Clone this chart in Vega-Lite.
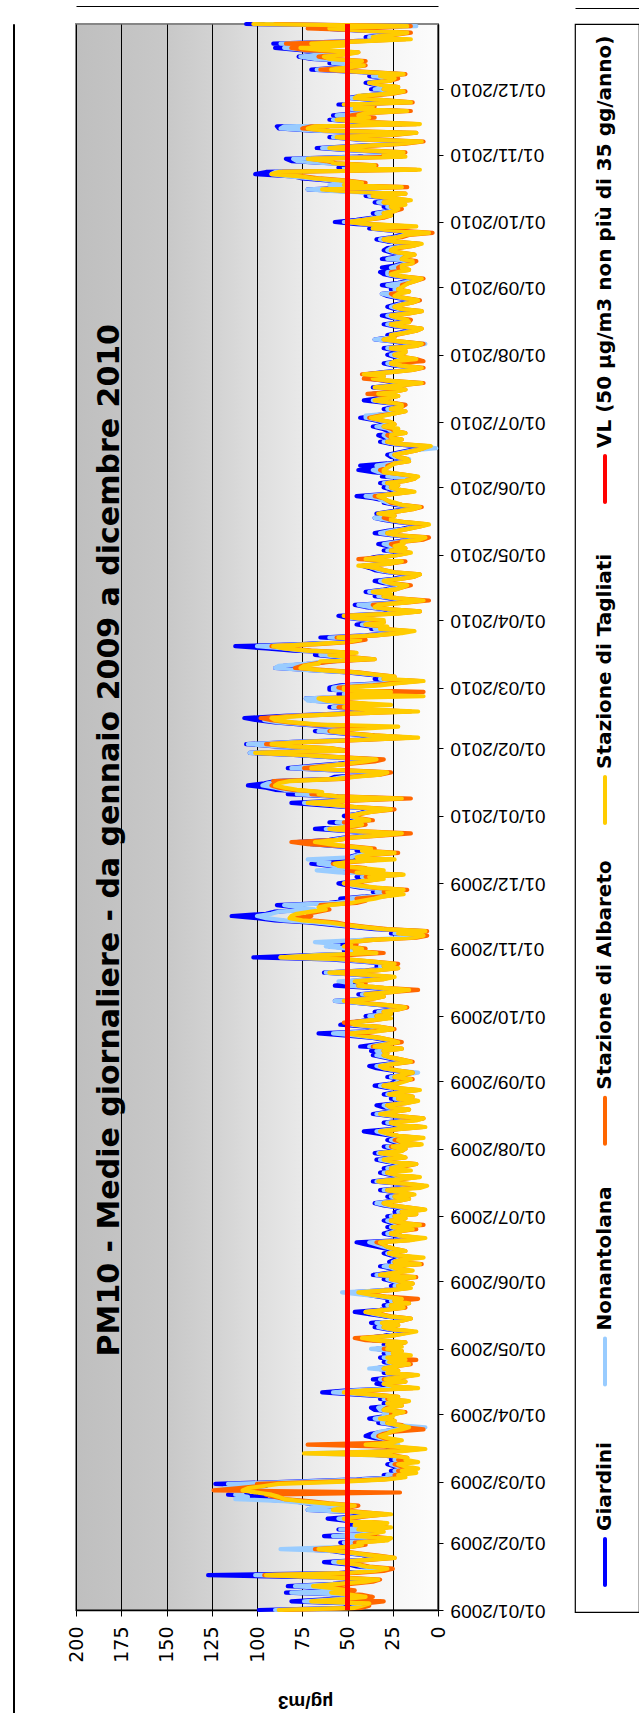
{
"$schema": "https://vega.github.io/schema/vega-lite/v6.json",
"background": "white",
"padding": {"left": 10, "top": 5, "right": 0, "bottom": 0},
"spacing": 49,
"title": {"text": "PM10 - Medie giornaliere - da gennaio 2009 a dicembre 2010", "orient": "left", "anchor": "end", "frame": "group", "font": "DejaVu Sans", "fontSize": 30, "fontWeight": "bold", "color": "black", "offset": -115, "dx": -300},
"config": {"view": {"stroke": null}},
"hconcat": [
{
"width": 1, "height": 1720,
"view": {"stroke": "black", "strokeWidth": 1},
"data": {"values": [{"k": "frame"}]},
"mark": {"type": "point", "opacity": 0}
},
{
"spacing": 27,
"hconcat": [
{
"width": 362, "height": 1586,
"view": {"stroke": "#868686", "strokeWidth": 2, "fill": {"gradient": "linear", "x1": 0, "y1": 0, "x2": 1, "y2": 0, "stops": [{"offset": 0, "color": "#bfbfbf"}, {"offset": 0.25, "color": "#c8c8c8"}, {"offset": 0.4, "color": "#d4d4d4"}, {"offset": 0.5, "color": "#dedede"}, {"offset": 0.65, "color": "#ebebeb"}, {"offset": 0.8, "color": "#f4f4f4"}, {"offset": 1, "color": "#fcfcfc"}]}},
"resolve": {"axis": {"x": "independent"}},
"data": {"values": [
{"d":"2009-01-01","g":99,"n":90,"a":85,"t":88},{"d":"2009-01-02","g":52,"n":48,"a":42,"t":46},{"d":"2009-01-03","g":45,"n":40,"a":38,"t":42},{"d":"2009-01-04","g":50,"n":44,"a":40,"t":38},{"d":"2009-01-05","g":81,"n":74,"a":30,"t":70},{"d":"2009-01-06","g":60,"n":55,"a":48,"t":52},{"d":"2009-01-07","g":44,"n":40,"a":36,"t":40},{"d":"2009-01-08","g":52,"n":48,"a":42,"t":48},{"d":"2009-01-09","g":84,"n":81,"a":55,"t":59},{"d":"2009-01-10","g":55,"n":50,"a":46,"t":50},{"d":"2009-01-11","g":60,"n":62,"a":55,"t":58},{"d":"2009-01-12","g":83,"n":79,"a":60,"t":69},{"d":"2009-01-13","g":58,"n":54,"a":48,"t":55},{"d":"2009-01-14","g":42,"n":40,"a":36,"t":40},{"d":"2009-01-15","g":38,"n":35,"a":32,"t":33},{"d":"2009-01-16","g":62,"n":58,"a":55,"t":60},{"d":"2009-01-17","g":127,"n":101,"a":96,"t":95},{"d":"2009-01-18","g":55,"n":50,"a":45,"t":50},{"d":"2009-01-19","g":40,"n":38,"a":30,"t":35},{"d":"2009-01-20","g":32,"n":30,"a":25,"t":28},{"d":"2009-01-21","g":45,"n":42,"a":38,"t":40},{"d":"2009-01-22","g":50,"n":46,"a":44,"t":45},{"d":"2009-01-23","g":63,"n":58,"a":52,"t":55},{"d":"2009-01-24","g":42,"n":40,"a":38,"t":40},{"d":"2009-01-25","g":30,"n":28,"a":24,"t":24},{"d":"2009-01-26","g":38,"n":36,"a":33,"t":35},{"d":"2009-01-27","g":50,"n":48,"a":44,"t":45},{"d":"2009-01-28","g":58,"n":56,"a":52,"t":55},{"d":"2009-01-29","g":75,"n":87,"a":68,"t":66},{"d":"2009-01-30","g":50,"n":52,"a":48,"t":48},{"d":"2009-01-31","g":45,"n":44,"a":40,"t":42},
{"d":"2009-02-01","g":54,"n":52,"a":46,"t":44},{"d":"2009-02-02","g":40,"n":38,"a":30,"t":28},{"d":"2009-02-03","g":35,"n":33,"a":28,"t":26},{"d":"2009-02-04","g":63,"n":58,"a":40,"t":45},{"d":"2009-02-05","g":45,"n":42,"a":35,"t":38},{"d":"2009-02-06","g":38,"n":35,"a":32,"t":30},{"d":"2009-02-07","g":55,"n":54,"a":42,"t":44},{"d":"2009-02-08","g":40,"n":38,"a":28,"t":26},{"d":"2009-02-09","g":48,"n":46,"a":44,"t":46},{"d":"2009-02-10","g":36,"n":34,"a":30,"t":28},{"d":"2009-02-11","g":50,"n":47,"a":45,"t":48},{"d":"2009-02-12","g":61,"n":55,"a":50,"t":52},{"d":"2009-02-13","g":45,"n":42,"a":40,"t":42},{"d":"2009-02-14","g":35,"n":32,"a":28,"t":26},{"d":"2009-02-15","g":48,"n":46,"a":42,"t":44},{"d":"2009-02-16","g":72,"n":72,"a":55,"t":58},{"d":"2009-02-17","g":60,"n":70,"a":50,"t":52},{"d":"2009-02-18","g":50,"n":48,"a":44,"t":46},{"d":"2009-02-19","g":72,"n":71,"a":60,"t":62},{"d":"2009-02-20","g":80,"n":85,"a":70,"t":75},{"d":"2009-02-21","g":100,"n":112,"a":85,"t":85},{"d":"2009-02-22","g":95,"n":105,"a":90,"t":88},{"d":"2009-02-23","g":116,"n":112,"a":95,"t":92},{"d":"2009-02-24","g":105,"n":108,"a":21,"t":100},{"d":"2009-02-25","g":110,"n":115,"a":124,"t":108},{"d":"2009-02-26","g":115,"n":118,"a":110,"t":105},{"d":"2009-02-27","g":95,"n":100,"a":98,"t":96},{"d":"2009-02-28","g":123,"n":116,"a":100,"t":88},
{"d":"2009-03-01","g":80,"n":75,"a":60,"t":52},{"d":"2009-03-02","g":45,"n":42,"a":30,"t":28},{"d":"2009-03-03","g":25,"n":22,"a":20,"t":18},{"d":"2009-03-04","g":30,"n":28,"a":24,"t":22},{"d":"2009-03-05","g":20,"n":18,"a":16,"t":12},{"d":"2009-03-06","g":26,"n":24,"a":22,"t":20},{"d":"2009-03-07","g":18,"n":16,"a":14,"t":11},{"d":"2009-03-08","g":24,"n":22,"a":20,"t":18},{"d":"2009-03-09","g":28,"n":26,"a":24,"t":22},{"d":"2009-03-10","g":20,"n":18,"a":15,"t":11},{"d":"2009-03-11","g":26,"n":24,"a":22,"t":18},{"d":"2009-03-12","g":22,"n":20,"a":17,"t":17},{"d":"2009-03-13","g":30,"n":28,"a":24,"t":26},{"d":"2009-03-14","g":45,"n":72,"a":60,"t":74},{"d":"2009-03-15","g":30,"n":28,"a":22,"t":20},{"d":"2009-03-16","g":20,"n":18,"a":10,"t":7},{"d":"2009-03-17","g":28,"n":26,"a":24,"t":22},{"d":"2009-03-18","g":24,"n":22,"a":72,"t":40},{"d":"2009-03-19","g":32,"n":30,"a":26,"t":25},{"d":"2009-03-20","g":26,"n":24,"a":22,"t":20},{"d":"2009-03-21","g":35,"n":32,"a":30,"t":28},{"d":"2009-03-22","g":40,"n":36,"a":33,"t":32},{"d":"2009-03-23","g":37,"n":35,"a":30,"t":28},{"d":"2009-03-24","g":30,"n":32,"a":24,"t":26},{"d":"2009-03-25","g":25,"n":23,"a":8,"t":20},{"d":"2009-03-26","g":20,"n":7,"a":18,"t":16},{"d":"2009-03-27","g":24,"n":22,"a":20,"t":22},{"d":"2009-03-28","g":33,"n":31,"a":28,"t":28},{"d":"2009-03-29","g":28,"n":26,"a":24,"t":24},{"d":"2009-03-30","g":38,"n":35,"a":30,"t":32},{"d":"2009-03-31","g":30,"n":28,"a":26,"t":25},
{"d":"2009-04-01","g":28,"n":30,"a":26,"t":24},{"d":"2009-04-02","g":22,"n":20,"a":18,"t":19},{"d":"2009-04-03","g":35,"n":32,"a":30,"t":30},{"d":"2009-04-04","g":37,"n":33,"a":28,"t":26},{"d":"2009-04-05","g":25,"n":24,"a":20,"t":20},{"d":"2009-04-06","g":30,"n":28,"a":26,"t":28},{"d":"2009-04-07","g":22,"n":20,"a":17,"t":16},{"d":"2009-04-08","g":32,"n":30,"a":28,"t":27},{"d":"2009-04-09","g":26,"n":24,"a":22,"t":22},{"d":"2009-04-10","g":45,"n":40,"a":34,"t":36},{"d":"2009-04-11","g":64,"n":58,"a":50,"t":52},{"d":"2009-04-12","g":50,"n":46,"a":38,"t":40},{"d":"2009-04-13","g":20,"n":18,"a":14,"t":11},{"d":"2009-04-14","g":28,"n":26,"a":24,"t":25},{"d":"2009-04-15","g":34,"n":30,"a":28,"t":30},{"d":"2009-04-16","g":22,"n":20,"a":18,"t":18},{"d":"2009-04-17","g":36,"n":32,"a":30,"t":29},{"d":"2009-04-18","g":26,"n":24,"a":20,"t":21},{"d":"2009-04-19","g":18,"n":16,"a":13,"t":11},{"d":"2009-04-20","g":30,"n":28,"a":26,"t":28},{"d":"2009-04-21","g":25,"n":24,"a":22,"t":22},{"d":"2009-04-22","g":35,"n":38,"a":30,"t":30},{"d":"2009-04-23","g":28,"n":26,"a":24,"t":24},{"d":"2009-04-24","g":20,"n":18,"a":15,"t":16},{"d":"2009-04-25","g":30,"n":28,"a":26,"t":27},{"d":"2009-04-26","g":24,"n":22,"a":12,"t":18},{"d":"2009-04-27","g":32,"n":30,"a":26,"t":28},{"d":"2009-04-28","g":22,"n":20,"a":18,"t":15},{"d":"2009-04-29","g":30,"n":28,"a":24,"t":25},{"d":"2009-04-30","g":25,"n":24,"a":20,"t":20},
{"d":"2009-05-01","g":34,"n":37,"a":30,"t":28},{"d":"2009-05-02","g":25,"n":24,"a":22,"t":20},{"d":"2009-05-03","g":30,"n":28,"a":26,"t":28},{"d":"2009-05-04","g":22,"n":20,"a":18,"t":18},{"d":"2009-05-05","g":36,"n":34,"a":40,"t":35},{"d":"2009-05-06","g":40,"n":38,"a":46,"t":42},{"d":"2009-05-07","g":30,"n":28,"a":26,"t":26},{"d":"2009-05-08","g":24,"n":22,"a":20,"t":19},{"d":"2009-05-09","g":18,"n":16,"a":14,"t":12},{"d":"2009-05-10","g":28,"n":26,"a":24,"t":25},{"d":"2009-05-11","g":35,"n":33,"a":30,"t":30},{"d":"2009-05-12","g":26,"n":24,"a":22,"t":22},{"d":"2009-05-13","g":37,"n":34,"a":30,"t":31},{"d":"2009-05-14","g":24,"n":22,"a":20,"t":20},{"d":"2009-05-15","g":18,"n":17,"a":15,"t":15},{"d":"2009-05-16","g":30,"n":28,"a":26,"t":27},{"d":"2009-05-17","g":38,"n":35,"a":32,"t":33},{"d":"2009-05-18","g":46,"n":40,"a":38,"t":40},{"d":"2009-05-19","g":32,"n":30,"a":28,"t":28},{"d":"2009-05-20","g":22,"n":20,"a":18,"t":19},{"d":"2009-05-21","g":30,"n":28,"a":26,"t":26},{"d":"2009-05-22","g":20,"n":19,"a":16,"t":16},{"d":"2009-05-23","g":28,"n":26,"a":24,"t":24},{"d":"2009-05-24","g":25,"n":24,"a":11,"t":20},{"d":"2009-05-25","g":33,"n":31,"a":28,"t":29},{"d":"2009-05-26","g":40,"n":42,"a":36,"t":38},{"d":"2009-05-27","g":48,"n":53,"a":40,"t":44},{"d":"2009-05-28","g":30,"n":28,"a":26,"t":26},{"d":"2009-05-29","g":20,"n":18,"a":16,"t":15},{"d":"2009-05-30","g":26,"n":24,"a":22,"t":22},{"d":"2009-05-31","g":18,"n":16,"a":14,"t":14},
{"d":"2009-06-01","g":25,"n":24,"a":20,"t":20},{"d":"2009-06-02","g":30,"n":28,"a":26,"t":26},{"d":"2009-06-03","g":22,"n":20,"a":12,"t":13},{"d":"2009-06-04","g":36,"n":34,"a":32,"t":32},{"d":"2009-06-05","g":28,"n":26,"a":24,"t":24},{"d":"2009-06-06","g":20,"n":18,"a":16,"t":14},{"d":"2009-06-07","g":26,"n":24,"a":22,"t":23},{"d":"2009-06-08","g":32,"n":30,"a":26,"t":26},{"d":"2009-06-09","g":20,"n":19,"a":9,"t":10},{"d":"2009-06-10","g":27,"n":25,"a":24,"t":24},{"d":"2009-06-11","g":24,"n":22,"a":20,"t":20},{"d":"2009-06-12","g":15,"n":14,"a":12,"t":8},{"d":"2009-06-13","g":26,"n":24,"a":22,"t":22},{"d":"2009-06-14","g":30,"n":28,"a":27,"t":27},{"d":"2009-06-15","g":22,"n":20,"a":18,"t":18},{"d":"2009-06-16","g":28,"n":26,"a":24,"t":24},{"d":"2009-06-17","g":34,"n":30,"a":28,"t":28},{"d":"2009-06-18","g":40,"n":34,"a":30,"t":30},{"d":"2009-06-19","g":45,"n":38,"a":34,"t":32},{"d":"2009-06-20","g":20,"n":18,"a":16,"t":15},{"d":"2009-06-21","g":15,"n":14,"a":10,"t":7},{"d":"2009-06-22","g":24,"n":22,"a":20,"t":20},{"d":"2009-06-23","g":30,"n":28,"a":26,"t":26},{"d":"2009-06-24","g":26,"n":24,"a":22,"t":22},{"d":"2009-06-25","g":20,"n":18,"a":12,"t":14},{"d":"2009-06-26","g":28,"n":26,"a":24,"t":25},{"d":"2009-06-27","g":16,"n":14,"a":8,"t":10},{"d":"2009-06-28","g":26,"n":24,"a":22,"t":20},{"d":"2009-06-29","g":30,"n":28,"a":26,"t":26},{"d":"2009-06-30","g":22,"n":20,"a":18,"t":18},
{"d":"2009-07-01","g":28,"n":26,"a":24,"t":24},{"d":"2009-07-02","g":18,"n":16,"a":12,"t":12},{"d":"2009-07-03","g":24,"n":22,"a":20,"t":20},{"d":"2009-07-04","g":14,"n":12,"a":8,"t":7},{"d":"2009-07-05","g":22,"n":20,"a":16,"t":16},{"d":"2009-07-06","g":30,"n":28,"a":26,"t":26},{"d":"2009-07-07","g":35,"n":34,"a":30,"t":30},{"d":"2009-07-08","g":26,"n":24,"a":22,"t":22},{"d":"2009-07-09","g":20,"n":18,"a":16,"t":16},{"d":"2009-07-10","g":28,"n":26,"a":24,"t":24},{"d":"2009-07-11","g":18,"n":16,"a":14,"t":13},{"d":"2009-07-12","g":24,"n":22,"a":20,"t":20},{"d":"2009-07-13","g":32,"n":30,"a":28,"t":28},{"d":"2009-07-14","g":20,"n":18,"a":14,"t":10},{"d":"2009-07-15","g":12,"n":10,"a":8,"t":6},{"d":"2009-07-16","g":22,"n":20,"a":18,"t":18},{"d":"2009-07-17","g":36,"n":34,"a":32,"t":33},{"d":"2009-07-18","g":26,"n":24,"a":20,"t":22},{"d":"2009-07-19","g":18,"n":16,"a":12,"t":10},{"d":"2009-07-20","g":26,"n":24,"a":22,"t":22},{"d":"2009-07-21","g":32,"n":30,"a":28,"t":28},{"d":"2009-07-22","g":22,"n":20,"a":18,"t":15},{"d":"2009-07-23","g":30,"n":28,"a":26,"t":26},{"d":"2009-07-24","g":24,"n":22,"a":18,"t":20},{"d":"2009-07-25","g":16,"n":14,"a":12,"t":12},{"d":"2009-07-26","g":28,"n":26,"a":24,"t":24},{"d":"2009-07-27","g":34,"n":32,"a":28,"t":30},{"d":"2009-07-28","g":22,"n":20,"a":18,"t":18},{"d":"2009-07-29","g":28,"n":26,"a":24,"t":22},{"d":"2009-07-30","g":35,"n":33,"a":30,"t":32},{"d":"2009-07-31","g":24,"n":22,"a":20,"t":20},
{"d":"2009-08-01","g":22,"n":20,"a":18,"t":18},{"d":"2009-08-02","g":30,"n":28,"a":26,"t":25},{"d":"2009-08-03","g":16,"n":14,"a":10,"t":9},{"d":"2009-08-04","g":24,"n":22,"a":20,"t":20},{"d":"2009-08-05","g":28,"n":26,"a":24,"t":22},{"d":"2009-08-06","g":18,"n":16,"a":10,"t":8},{"d":"2009-08-07","g":26,"n":24,"a":22,"t":22},{"d":"2009-08-08","g":34,"n":30,"a":28,"t":28},{"d":"2009-08-09","g":41,"n":34,"a":30,"t":32},{"d":"2009-08-10","g":26,"n":24,"a":22,"t":22},{"d":"2009-08-11","g":14,"n":12,"a":8,"t":7},{"d":"2009-08-12","g":24,"n":22,"a":20,"t":22},{"d":"2009-08-13","g":30,"n":28,"a":26,"t":26},{"d":"2009-08-14","g":20,"n":18,"a":14,"t":12},{"d":"2009-08-15","g":12,"n":10,"a":8,"t":8},{"d":"2009-08-16","g":26,"n":24,"a":22,"t":22},{"d":"2009-08-17","g":36,"n":34,"a":30,"t":32},{"d":"2009-08-18","g":28,"n":26,"a":24,"t":24},{"d":"2009-08-19","g":20,"n":18,"a":16,"t":16},{"d":"2009-08-20","g":30,"n":28,"a":26,"t":26},{"d":"2009-08-21","g":34,"n":30,"a":28,"t":28},{"d":"2009-08-22","g":22,"n":20,"a":18,"t":18},{"d":"2009-08-23","g":16,"n":14,"a":12,"t":11},{"d":"2009-08-24","g":26,"n":24,"a":22,"t":22},{"d":"2009-08-25","g":20,"n":18,"a":14,"t":14},{"d":"2009-08-26","g":30,"n":28,"a":26,"t":27},{"d":"2009-08-27","g":24,"n":22,"a":20,"t":20},{"d":"2009-08-28","g":15,"n":14,"a":11,"t":10},{"d":"2009-08-29","g":28,"n":26,"a":24,"t":24},{"d":"2009-08-30","g":35,"n":32,"a":30,"t":30},{"d":"2009-08-31","g":26,"n":24,"a":22,"t":22},
{"d":"2009-09-01","g":24,"n":22,"a":20,"t":18},{"d":"2009-09-02","g":18,"n":16,"a":14,"t":15},{"d":"2009-09-03","g":28,"n":26,"a":24,"t":24},{"d":"2009-09-04","g":22,"n":20,"a":18,"t":20},{"d":"2009-09-05","g":16,"n":11,"a":14,"t":14},{"d":"2009-09-06","g":26,"n":24,"a":22,"t":22},{"d":"2009-09-07","g":34,"n":30,"a":28,"t":30},{"d":"2009-09-08","g":38,"n":34,"a":30,"t":32},{"d":"2009-09-09","g":28,"n":26,"a":24,"t":24},{"d":"2009-09-10","g":18,"n":16,"a":14,"t":15},{"d":"2009-09-11","g":24,"n":22,"a":20,"t":20},{"d":"2009-09-12","g":30,"n":28,"a":26,"t":26},{"d":"2009-09-13","g":36,"n":34,"a":30,"t":30},{"d":"2009-09-14","g":32,"n":30,"a":28,"t":28},{"d":"2009-09-15","g":37,"n":34,"a":30,"t":30},{"d":"2009-09-16","g":24,"n":22,"a":20,"t":20},{"d":"2009-09-17","g":43,"n":38,"a":36,"t":35},{"d":"2009-09-18","g":34,"n":32,"a":28,"t":28},{"d":"2009-09-19","g":24,"n":22,"a":20,"t":22},{"d":"2009-09-20","g":30,"n":28,"a":26,"t":26},{"d":"2009-09-21","g":36,"n":34,"a":32,"t":32},{"d":"2009-09-22","g":50,"n":45,"a":40,"t":42},{"d":"2009-09-23","g":66,"n":58,"a":48,"t":50},{"d":"2009-09-24","g":40,"n":38,"a":36,"t":34},{"d":"2009-09-25","g":28,"n":26,"a":24,"t":25},{"d":"2009-09-26","g":38,"n":36,"a":32,"t":32},{"d":"2009-09-27","g":54,"n":48,"a":44,"t":46},{"d":"2009-09-28","g":48,"n":46,"a":52,"t":48},{"d":"2009-09-29","g":40,"n":38,"a":36,"t":38},{"d":"2009-09-30","g":32,"n":30,"a":28,"t":26},
{"d":"2009-10-01","g":40,"n":38,"a":34,"t":34},{"d":"2009-10-02","g":30,"n":28,"a":26,"t":26},{"d":"2009-10-03","g":35,"n":33,"a":30,"t":30},{"d":"2009-10-04","g":26,"n":24,"a":22,"t":22},{"d":"2009-10-05","g":20,"n":18,"a":17,"t":18},{"d":"2009-10-06","g":32,"n":30,"a":28,"t":28},{"d":"2009-10-07","g":45,"n":44,"a":40,"t":42},{"d":"2009-10-08","g":57,"n":57,"a":48,"t":52},{"d":"2009-10-09","g":40,"n":38,"a":36,"t":36},{"d":"2009-10-10","g":34,"n":32,"a":30,"t":30},{"d":"2009-10-11","g":44,"n":42,"a":40,"t":40},{"d":"2009-10-12","g":30,"n":28,"a":26,"t":26},{"d":"2009-10-13","g":24,"n":22,"a":11,"t":16},{"d":"2009-10-14","g":38,"n":34,"a":30,"t":30},{"d":"2009-10-15","g":57,"n":50,"a":44,"t":44},{"d":"2009-10-16","g":45,"n":48,"a":40,"t":42},{"d":"2009-10-17","g":50,"n":55,"a":44,"t":46},{"d":"2009-10-18","g":36,"n":34,"a":30,"t":30},{"d":"2009-10-19","g":30,"n":28,"a":26,"t":24},{"d":"2009-10-20","g":46,"n":44,"a":40,"t":40},{"d":"2009-10-21","g":63,"n":62,"a":56,"t":60},{"d":"2009-10-22","g":40,"n":38,"a":34,"t":34},{"d":"2009-10-23","g":26,"n":24,"a":22,"t":22},{"d":"2009-10-24","g":34,"n":32,"a":30,"t":30},{"d":"2009-10-25","g":28,"n":26,"a":22,"t":24},{"d":"2009-10-26","g":42,"n":40,"a":36,"t":36},{"d":"2009-10-27","g":60,"n":55,"a":50,"t":48},{"d":"2009-10-28","g":102,"n":87,"a":60,"t":87},{"d":"2009-10-29","g":70,"n":68,"a":50,"t":64},{"d":"2009-10-30","g":38,"n":36,"a":30,"t":34},{"d":"2009-10-31","g":52,"n":50,"a":45,"t":46},
{"d":"2009-11-01","g":45,"n":50,"a":40,"t":42},{"d":"2009-11-02","g":60,"n":62,"a":50,"t":52},{"d":"2009-11-03","g":50,"n":55,"a":45,"t":48},{"d":"2009-11-04","g":57,"n":68,"a":48,"t":50},{"d":"2009-11-05","g":40,"n":42,"a":36,"t":36},{"d":"2009-11-06","g":20,"n":18,"a":12,"t":14},{"d":"2009-11-07","g":12,"n":8,"a":6,"t":8},{"d":"2009-11-08","g":26,"n":24,"a":20,"t":22},{"d":"2009-11-09","g":10,"n":8,"a":6,"t":7},{"d":"2009-11-10","g":35,"n":30,"a":28,"t":30},{"d":"2009-11-11","g":48,"n":44,"a":40,"t":42},{"d":"2009-11-12","g":60,"n":56,"a":50,"t":52},{"d":"2009-11-13","g":72,"n":68,"a":56,"t":60},{"d":"2009-11-14","g":90,"n":85,"a":70,"t":75},{"d":"2009-11-15","g":100,"n":95,"a":80,"t":82},{"d":"2009-11-16","g":114,"n":100,"a":70,"t":81},{"d":"2009-11-17","g":95,"n":92,"a":72,"t":78},{"d":"2009-11-18","g":90,"n":88,"a":66,"t":70},{"d":"2009-11-19","g":70,"n":68,"a":60,"t":62},{"d":"2009-11-20","g":80,"n":78,"a":62,"t":66},{"d":"2009-11-21","g":89,"n":85,"a":65,"t":60},{"d":"2009-11-22","g":60,"n":56,"a":45,"t":48},{"d":"2009-11-23","g":50,"n":48,"a":40,"t":42},{"d":"2009-11-24","g":54,"n":50,"a":45,"t":35},{"d":"2009-11-25","g":40,"n":38,"a":30,"t":30},{"d":"2009-11-26","g":30,"n":28,"a":22,"t":19},{"d":"2009-11-27","g":36,"n":34,"a":30,"t":28},{"d":"2009-11-28","g":26,"n":24,"a":17,"t":19},{"d":"2009-11-29","g":43,"n":40,"a":36,"t":34},{"d":"2009-11-30","g":50,"n":48,"a":42,"t":44},
{"d":"2009-12-01","g":55,"n":52,"a":50,"t":52},{"d":"2009-12-02","g":45,"n":42,"a":40,"t":42},{"d":"2009-12-03","g":38,"n":36,"a":32,"t":30},{"d":"2009-12-04","g":45,"n":42,"a":40,"t":38},{"d":"2009-12-05","g":24,"n":22,"a":20,"t":19},{"d":"2009-12-06","g":50,"n":55,"a":44,"t":45},{"d":"2009-12-07","g":62,"n":67,"a":50,"t":30},{"d":"2009-12-08","g":48,"n":46,"a":40,"t":42},{"d":"2009-12-09","g":60,"n":58,"a":52,"t":55},{"d":"2009-12-10","g":70,"n":66,"a":58,"t":57},{"d":"2009-12-11","g":55,"n":60,"a":45,"t":48},{"d":"2009-12-12","g":40,"n":72,"a":30,"t":24},{"d":"2009-12-13","g":50,"n":48,"a":44,"t":45},{"d":"2009-12-14","g":45,"n":44,"a":38,"t":40},{"d":"2009-12-15","g":30,"n":28,"a":22,"t":24},{"d":"2009-12-16","g":45,"n":42,"a":40,"t":42},{"d":"2009-12-17","g":40,"n":38,"a":35,"t":37},{"d":"2009-12-18","g":55,"n":52,"a":48,"t":50},{"d":"2009-12-19","g":70,"n":68,"a":72,"t":60},{"d":"2009-12-20","g":78,"n":72,"a":81,"t":68},{"d":"2009-12-21","g":60,"n":58,"a":55,"t":55},{"d":"2009-12-22","g":52,"n":50,"a":48,"t":48},{"d":"2009-12-23","g":40,"n":38,"a":30,"t":32},{"d":"2009-12-24","g":30,"n":28,"a":15,"t":20},{"d":"2009-12-25","g":50,"n":48,"a":44,"t":44},{"d":"2009-12-26","g":68,"n":62,"a":58,"t":60},{"d":"2009-12-27","g":55,"n":52,"a":48,"t":50},{"d":"2009-12-28","g":45,"n":42,"a":40,"t":42},{"d":"2009-12-29","g":60,"n":56,"a":52,"t":50},{"d":"2009-12-30","g":40,"n":38,"a":36,"t":38},{"d":"2009-12-31","g":48,"n":46,"a":44,"t":45},
{"d":"2010-01-01","g":52,"n":50,"a":48,"t":48},{"d":"2010-01-02","g":45,"n":44,"a":42,"t":43},{"d":"2010-01-03","g":40,"n":38,"a":36,"t":36},{"d":"2010-01-04","g":30,"n":28,"a":24,"t":26},{"d":"2010-01-05","g":50,"n":48,"a":45,"t":45},{"d":"2010-01-06","g":65,"n":60,"a":55,"t":56},{"d":"2010-01-07","g":81,"n":74,"a":70,"t":72},{"d":"2010-01-08","g":55,"n":52,"a":48,"t":50},{"d":"2010-01-09","g":25,"n":22,"a":15,"t":20},{"d":"2010-01-10","g":60,"n":58,"a":55,"t":56},{"d":"2010-01-11","g":83,"n":78,"a":70,"t":66},{"d":"2010-01-12","g":70,"n":68,"a":65,"t":64},{"d":"2010-01-13","g":90,"n":85,"a":80,"t":78},{"d":"2010-01-14","g":95,"n":90,"a":88,"t":85},{"d":"2010-01-15","g":105,"n":97,"a":92,"t":90},{"d":"2010-01-16","g":96,"n":94,"a":90,"t":88},{"d":"2010-01-17","g":90,"n":86,"a":91,"t":82},{"d":"2010-01-18","g":60,"n":58,"a":52,"t":55},{"d":"2010-01-19","g":57,"n":52,"a":48,"t":45},{"d":"2010-01-20","g":40,"n":38,"a":32,"t":32},{"d":"2010-01-21","g":30,"n":28,"a":26,"t":28},{"d":"2010-01-22","g":60,"n":58,"a":50,"t":52},{"d":"2010-01-23","g":83,"n":81,"a":74,"t":70},{"d":"2010-01-24","g":70,"n":66,"a":62,"t":60},{"d":"2010-01-25","g":55,"n":52,"a":48,"t":50},{"d":"2010-01-26","g":45,"n":42,"a":35,"t":40},{"d":"2010-01-27","g":35,"n":32,"a":30,"t":34},{"d":"2010-01-28","g":60,"n":58,"a":55,"t":56},{"d":"2010-01-29","g":80,"n":78,"a":72,"t":75},{"d":"2010-01-30","g":104,"n":104,"a":98,"t":101},{"d":"2010-01-31","g":60,"n":56,"a":50,"t":52},
{"d":"2010-02-01","g":65,"n":62,"a":58,"t":58},{"d":"2010-02-02","g":90,"n":88,"a":80,"t":80},{"d":"2010-02-03","g":106,"n":105,"a":95,"t":92},{"d":"2010-02-04","g":80,"n":78,"a":70,"t":72},{"d":"2010-02-05","g":45,"n":42,"a":38,"t":40},{"d":"2010-02-06","g":20,"n":18,"a":15,"t":11},{"d":"2010-02-07","g":40,"n":38,"a":35,"t":36},{"d":"2010-02-08","g":55,"n":52,"a":48,"t":50},{"d":"2010-02-09","g":68,"n":66,"a":60,"t":59},{"d":"2010-02-10","g":50,"n":48,"a":46,"t":45},{"d":"2010-02-11","g":57,"n":52,"a":40,"t":22},{"d":"2010-02-12","g":75,"n":72,"a":68,"t":65},{"d":"2010-02-13","g":90,"n":88,"a":82,"t":80},{"d":"2010-02-14","g":100,"n":96,"a":92,"t":90},{"d":"2010-02-15","g":107,"n":95,"a":98,"t":92},{"d":"2010-02-16","g":85,"n":82,"a":78,"t":75},{"d":"2010-02-17","g":55,"n":52,"a":48,"t":50},{"d":"2010-02-18","g":30,"n":28,"a":15,"t":11},{"d":"2010-02-19","g":45,"n":42,"a":40,"t":40},{"d":"2010-02-20","g":60,"n":58,"a":55,"t":52},{"d":"2010-02-21","g":40,"n":38,"a":35,"t":26},{"d":"2010-02-22","g":50,"n":48,"a":45,"t":46},{"d":"2010-02-23","g":70,"n":72,"a":60,"t":62},{"d":"2010-02-24","g":73,"n":73,"a":65,"t":66},{"d":"2010-02-25","g":35,"n":32,"a":30,"t":8},{"d":"2010-02-26","g":55,"n":52,"a":48,"t":48},{"d":"2010-02-27","g":40,"n":38,"a":8,"t":26},{"d":"2010-02-28","g":60,"n":58,"a":50,"t":52},
{"d":"2010-03-01","g":60,"n":58,"a":55,"t":52},{"d":"2010-03-02","g":54,"n":50,"a":36,"t":32},{"d":"2010-03-03","g":30,"n":28,"a":24,"t":22},{"d":"2010-03-04","g":15,"n":12,"a":10,"t":8},{"d":"2010-03-05","g":35,"n":32,"a":30,"t":30},{"d":"2010-03-06","g":28,"n":26,"a":24,"t":24},{"d":"2010-03-07","g":40,"n":37,"a":34,"t":35},{"d":"2010-03-08","g":50,"n":48,"a":44,"t":45},{"d":"2010-03-09","g":70,"n":72,"a":62,"t":65},{"d":"2010-03-10","g":90,"n":90,"a":79,"t":76},{"d":"2010-03-11","g":85,"n":88,"a":75,"t":74},{"d":"2010-03-12","g":70,"n":72,"a":68,"t":66},{"d":"2010-03-13","g":60,"n":62,"a":58,"t":65},{"d":"2010-03-14","g":40,"n":38,"a":35,"t":35},{"d":"2010-03-15","g":55,"n":52,"a":48,"t":50},{"d":"2010-03-16","g":68,"n":65,"a":58,"t":60},{"d":"2010-03-17","g":50,"n":48,"a":46,"t":45},{"d":"2010-03-18","g":80,"n":75,"a":70,"t":72},{"d":"2010-03-19","g":95,"n":85,"a":82,"t":85},{"d":"2010-03-20","g":112,"n":100,"a":92,"t":91},{"d":"2010-03-21","g":75,"n":72,"a":66,"t":68},{"d":"2010-03-22","g":55,"n":52,"a":48,"t":50},{"d":"2010-03-23","g":45,"n":42,"a":40,"t":43},{"d":"2010-03-24","g":65,"n":60,"a":56,"t":55},{"d":"2010-03-25","g":40,"n":38,"a":34,"t":35},{"d":"2010-03-26","g":28,"n":26,"a":22,"t":20},{"d":"2010-03-27","g":20,"n":18,"a":16,"t":13},{"d":"2010-03-28","g":37,"n":35,"a":30,"t":32},{"d":"2010-03-29","g":37,"n":34,"a":30,"t":28},{"d":"2010-03-30","g":45,"n":42,"a":40,"t":40},{"d":"2010-03-31","g":35,"n":32,"a":30,"t":30},
{"d":"2010-04-01","g":40,"n":38,"a":34,"t":30},{"d":"2010-04-02","g":50,"n":48,"a":45,"t":46},{"d":"2010-04-03","g":55,"n":52,"a":50,"t":52},{"d":"2010-04-04","g":30,"n":28,"a":24,"t":22},{"d":"2010-04-05","g":15,"n":13,"a":10,"t":10},{"d":"2010-04-06","g":30,"n":28,"a":26,"t":26},{"d":"2010-04-07","g":40,"n":38,"a":34,"t":35},{"d":"2010-04-08","g":46,"n":44,"a":36,"t":33},{"d":"2010-04-09","g":25,"n":22,"a":18,"t":18},{"d":"2010-04-10","g":15,"n":12,"a":5,"t":8},{"d":"2010-04-11","g":26,"n":24,"a":22,"t":22},{"d":"2010-04-12","g":35,"n":33,"a":30,"t":30},{"d":"2010-04-13","g":33,"n":30,"a":28,"t":26},{"d":"2010-04-14","g":40,"n":38,"a":35,"t":36},{"d":"2010-04-15","g":30,"n":28,"a":24,"t":24},{"d":"2010-04-16","g":24,"n":22,"a":20,"t":20},{"d":"2010-04-17","g":18,"n":16,"a":15,"t":17},{"d":"2010-04-18","g":30,"n":28,"a":26,"t":26},{"d":"2010-04-19","g":35,"n":32,"a":28,"t":30},{"d":"2010-04-20","g":25,"n":23,"a":20,"t":20},{"d":"2010-04-21","g":18,"n":16,"a":13,"t":13},{"d":"2010-04-22","g":14,"n":12,"a":10,"t":10},{"d":"2010-04-23","g":28,"n":26,"a":24,"t":24},{"d":"2010-04-24","g":35,"n":33,"a":30,"t":30},{"d":"2010-04-25","g":38,"n":36,"a":34,"t":34},{"d":"2010-04-26","g":42,"n":40,"a":41,"t":44},{"d":"2010-04-27","g":30,"n":28,"a":26,"t":26},{"d":"2010-04-28","g":22,"n":20,"a":18,"t":20},{"d":"2010-04-29","g":40,"n":38,"a":44,"t":40},{"d":"2010-04-30","g":35,"n":33,"a":30,"t":30},
{"d":"2010-05-01","g":25,"n":24,"a":22,"t":22},{"d":"2010-05-02","g":20,"n":18,"a":16,"t":15},{"d":"2010-05-03","g":30,"n":28,"a":26,"t":26},{"d":"2010-05-04","g":22,"n":20,"a":18,"t":18},{"d":"2010-05-05","g":28,"n":26,"a":24,"t":24},{"d":"2010-05-06","g":33,"n":30,"a":26,"t":19},{"d":"2010-05-07","g":24,"n":22,"a":20,"t":20},{"d":"2010-05-08","g":16,"n":14,"a":8,"t":10},{"d":"2010-05-09","g":12,"n":10,"a":5,"t":7},{"d":"2010-05-10","g":26,"n":24,"a":22,"t":22},{"d":"2010-05-11","g":35,"n":32,"a":28,"t":28},{"d":"2010-05-12","g":28,"n":26,"a":22,"t":22},{"d":"2010-05-13","g":20,"n":18,"a":16,"t":16},{"d":"2010-05-14","g":14,"n":12,"a":10,"t":10},{"d":"2010-05-15","g":10,"n":8,"a":6,"t":5},{"d":"2010-05-16","g":22,"n":20,"a":18,"t":18},{"d":"2010-05-17","g":30,"n":28,"a":26,"t":26},{"d":"2010-05-18","g":35,"n":35,"a":30,"t":26},{"d":"2010-05-19","g":28,"n":26,"a":24,"t":24},{"d":"2010-05-20","g":34,"n":32,"a":30,"t":33},{"d":"2010-05-21","g":26,"n":24,"a":22,"t":22},{"d":"2010-05-22","g":18,"n":16,"a":14,"t":14},{"d":"2010-05-23","g":14,"n":12,"a":9,"t":10},{"d":"2010-05-24","g":24,"n":22,"a":20,"t":20},{"d":"2010-05-25","g":30,"n":28,"a":26,"t":24},{"d":"2010-05-26","g":30,"n":31,"a":28,"t":28},{"d":"2010-05-27","g":36,"n":33,"a":30,"t":30},{"d":"2010-05-28","g":45,"n":40,"a":35,"t":33},{"d":"2010-05-29","g":28,"n":26,"a":24,"t":24},{"d":"2010-05-30","g":18,"n":16,"a":14,"t":13},{"d":"2010-05-31","g":26,"n":24,"a":22,"t":22},
{"d":"2010-06-01","g":30,"n":28,"a":26,"t":26},{"d":"2010-06-02","g":26,"n":24,"a":22,"t":22},{"d":"2010-06-03","g":32,"n":30,"a":28,"t":28},{"d":"2010-06-04","g":22,"n":20,"a":18,"t":18},{"d":"2010-06-05","g":18,"n":16,"a":13,"t":13},{"d":"2010-06-06","g":31,"n":28,"a":12,"t":11},{"d":"2010-06-07","g":24,"n":22,"a":20,"t":20},{"d":"2010-06-08","g":36,"n":33,"a":30,"t":30},{"d":"2010-06-09","g":44,"n":36,"a":32,"t":30},{"d":"2010-06-10","g":32,"n":30,"a":28,"t":28},{"d":"2010-06-11","g":43,"n":34,"a":28,"t":26},{"d":"2010-06-12","g":28,"n":26,"a":24,"t":24},{"d":"2010-06-13","g":20,"n":18,"a":16,"t":16},{"d":"2010-06-14","g":18,"n":16,"a":17,"t":17},{"d":"2010-06-15","g":26,"n":24,"a":22,"t":22},{"d":"2010-06-16","g":28,"n":26,"a":24,"t":24},{"d":"2010-06-17","g":22,"n":20,"a":18,"t":18},{"d":"2010-06-18","g":16,"n":14,"a":12,"t":12},{"d":"2010-06-19","g":10,"n":1,"a":8,"t":8},{"d":"2010-06-20","g":12,"n":8,"a":6,"t":4},{"d":"2010-06-21","g":26,"n":24,"a":22,"t":22},{"d":"2010-06-22","g":32,"n":30,"a":28,"t":28},{"d":"2010-06-23","g":24,"n":22,"a":20,"t":20},{"d":"2010-06-24","g":30,"n":28,"a":26,"t":26},{"d":"2010-06-25","g":33,"n":30,"a":28,"t":26},{"d":"2010-06-26","g":22,"n":20,"a":18,"t":18},{"d":"2010-06-27","g":28,"n":26,"a":24,"t":24},{"d":"2010-06-28","g":31,"n":28,"a":26,"t":22},{"d":"2010-06-29","g":36,"n":34,"a":30,"t":30},{"d":"2010-06-30","g":28,"n":26,"a":24,"t":24},
{"d":"2010-07-01","g":30,"n":28,"a":26,"t":26},{"d":"2010-07-02","g":36,"n":34,"a":32,"t":32},{"d":"2010-07-03","g":43,"n":40,"a":38,"t":37},{"d":"2010-07-04","g":35,"n":40,"a":32,"t":30},{"d":"2010-07-05","g":28,"n":26,"a":24,"t":24},{"d":"2010-07-06","g":22,"n":20,"a":18,"t":18},{"d":"2010-07-07","g":30,"n":28,"a":26,"t":26},{"d":"2010-07-08","g":24,"n":22,"a":20,"t":20},{"d":"2010-07-09","g":20,"n":18,"a":18,"t":20},{"d":"2010-07-10","g":30,"n":28,"a":26,"t":26},{"d":"2010-07-11","g":41,"n":36,"a":34,"t":35},{"d":"2010-07-12","g":32,"n":30,"a":28,"t":28},{"d":"2010-07-13","g":26,"n":24,"a":22,"t":22},{"d":"2010-07-14","g":36,"n":34,"a":39,"t":33},{"d":"2010-07-15","g":28,"n":26,"a":24,"t":24},{"d":"2010-07-16","g":22,"n":20,"a":18,"t":18},{"d":"2010-07-17","g":36,"n":34,"a":30,"t":35},{"d":"2010-07-18","g":24,"n":22,"a":20,"t":20},{"d":"2010-07-19","g":12,"n":10,"a":8,"t":9},{"d":"2010-07-20","g":30,"n":28,"a":26,"t":26},{"d":"2010-07-21","g":38,"n":36,"a":41,"t":36},{"d":"2010-07-22","g":34,"n":32,"a":30,"t":30},{"d":"2010-07-23","g":40,"n":38,"a":42,"t":41},{"d":"2010-07-24","g":30,"n":28,"a":26,"t":26},{"d":"2010-07-25","g":18,"n":16,"a":14,"t":14},{"d":"2010-07-26","g":12,"n":10,"a":8,"t":9},{"d":"2010-07-27","g":24,"n":22,"a":20,"t":20},{"d":"2010-07-28","g":30,"n":28,"a":26,"t":26},{"d":"2010-07-29","g":22,"n":20,"a":8,"t":24},{"d":"2010-07-30","g":16,"n":14,"a":12,"t":12},{"d":"2010-07-31","g":24,"n":22,"a":20,"t":20},
{"d":"2010-08-01","g":28,"n":26,"a":24,"t":24},{"d":"2010-08-02","g":22,"n":20,"a":18,"t":18},{"d":"2010-08-03","g":24,"n":20,"a":18,"t":18},{"d":"2010-08-04","g":30,"n":28,"a":26,"t":26},{"d":"2010-08-05","g":18,"n":16,"a":12,"t":12},{"d":"2010-08-06","g":10,"n":7,"a":8,"t":9},{"d":"2010-08-07","g":24,"n":22,"a":20,"t":20},{"d":"2010-08-08","g":35,"n":35,"a":30,"t":30},{"d":"2010-08-09","g":28,"n":26,"a":24,"t":24},{"d":"2010-08-10","g":28,"n":26,"a":24,"t":26},{"d":"2010-08-11","g":22,"n":20,"a":18,"t":18},{"d":"2010-08-12","g":16,"n":14,"a":12,"t":12},{"d":"2010-08-13","g":12,"n":10,"a":9,"t":9},{"d":"2010-08-14","g":24,"n":22,"a":20,"t":20},{"d":"2010-08-15","g":30,"n":28,"a":26,"t":26},{"d":"2010-08-16","g":20,"n":18,"a":16,"t":16},{"d":"2010-08-17","g":18,"n":16,"a":15,"t":17},{"d":"2010-08-18","g":26,"n":24,"a":22,"t":22},{"d":"2010-08-19","g":31,"n":28,"a":26,"t":26},{"d":"2010-08-20","g":20,"n":18,"a":16,"t":16},{"d":"2010-08-21","g":12,"n":10,"a":9,"t":9},{"d":"2010-08-22","g":24,"n":22,"a":20,"t":20},{"d":"2010-08-23","g":28,"n":26,"a":24,"t":24},{"d":"2010-08-24","g":24,"n":22,"a":20,"t":20},{"d":"2010-08-25","g":18,"n":16,"a":14,"t":14},{"d":"2010-08-26","g":12,"n":10,"a":10,"t":11},{"d":"2010-08-27","g":22,"n":20,"a":18,"t":18},{"d":"2010-08-28","g":28,"n":26,"a":24,"t":24},{"d":"2010-08-29","g":31,"n":31,"a":26,"t":22},{"d":"2010-08-30","g":20,"n":18,"a":16,"t":16},{"d":"2010-08-31","g":26,"n":24,"a":22,"t":22},
{"d":"2010-09-01","g":24,"n":22,"a":20,"t":20},{"d":"2010-09-02","g":31,"n":28,"a":20,"t":18},{"d":"2010-09-03","g":22,"n":20,"a":16,"t":16},{"d":"2010-09-04","g":16,"n":14,"a":12,"t":12},{"d":"2010-09-05","g":12,"n":10,"a":8,"t":9},{"d":"2010-09-06","g":24,"n":22,"a":20,"t":20},{"d":"2010-09-07","g":30,"n":28,"a":26,"t":26},{"d":"2010-09-08","g":32,"n":28,"a":26,"t":22},{"d":"2010-09-09","g":20,"n":18,"a":16,"t":16},{"d":"2010-09-10","g":31,"n":26,"a":22,"t":20},{"d":"2010-09-11","g":24,"n":22,"a":20,"t":20},{"d":"2010-09-12","g":18,"n":16,"a":14,"t":14},{"d":"2010-09-13","g":15,"n":14,"a":12,"t":14},{"d":"2010-09-14","g":31,"n":28,"a":20,"t":20},{"d":"2010-09-15","g":24,"n":22,"a":18,"t":18},{"d":"2010-09-16","g":16,"n":14,"a":13,"t":13},{"d":"2010-09-17","g":26,"n":24,"a":22,"t":22},{"d":"2010-09-18","g":30,"n":28,"a":26,"t":26},{"d":"2010-09-19","g":28,"n":26,"a":22,"t":24},{"d":"2010-09-20","g":18,"n":16,"a":14,"t":14},{"d":"2010-09-21","g":12,"n":10,"a":10,"t":9},{"d":"2010-09-22","g":28,"n":26,"a":24,"t":24},{"d":"2010-09-23","g":34,"n":32,"a":30,"t":30},{"d":"2010-09-24","g":26,"n":24,"a":20,"t":22},{"d":"2010-09-25","g":20,"n":18,"a":16,"t":18},{"d":"2010-09-26","g":10,"n":8,"a":3,"t":5},{"d":"2010-09-27","g":26,"n":24,"a":22,"t":22},{"d":"2010-09-28","g":38,"n":36,"a":34,"t":36},{"d":"2010-09-29","g":20,"n":18,"a":16,"t":12},{"d":"2010-09-30","g":45,"n":40,"a":38,"t":38},
{"d":"2010-10-01","g":57,"n":52,"a":48,"t":50},{"d":"2010-10-02","g":45,"n":42,"a":40,"t":40},{"d":"2010-10-03","g":36,"n":34,"a":30,"t":32},{"d":"2010-10-04","g":30,"n":28,"a":26,"t":26},{"d":"2010-10-05","g":36,"n":34,"a":30,"t":30},{"d":"2010-10-06","g":28,"n":26,"a":24,"t":24},{"d":"2010-10-07","g":24,"n":22,"a":20,"t":22},{"d":"2010-10-08","g":30,"n":28,"a":26,"t":26},{"d":"2010-10-09","g":26,"n":24,"a":20,"t":18},{"d":"2010-10-10","g":35,"n":33,"a":30,"t":30},{"d":"2010-10-11","g":22,"n":20,"a":16,"t":15},{"d":"2010-10-12","g":30,"n":28,"a":26,"t":26},{"d":"2010-10-13","g":40,"n":38,"a":36,"t":36},{"d":"2010-10-14","g":24,"n":22,"a":18,"t":18},{"d":"2010-10-15","g":50,"n":55,"a":46,"t":48},{"d":"2010-10-16","g":72,"n":72,"a":62,"t":64},{"d":"2010-10-17","g":40,"n":38,"a":17,"t":20},{"d":"2010-10-18","g":55,"n":60,"a":50,"t":52},{"d":"2010-10-19","g":45,"n":48,"a":40,"t":42},{"d":"2010-10-20","g":60,"n":58,"a":50,"t":52},{"d":"2010-10-21","g":75,"n":70,"a":65,"t":68},{"d":"2010-10-22","g":80,"n":82,"a":74,"t":76},{"d":"2010-10-23","g":101,"n":92,"a":85,"t":92},{"d":"2010-10-24","g":95,"n":90,"a":86,"t":88},{"d":"2010-10-25","g":30,"n":28,"a":12,"t":10},{"d":"2010-10-26","g":55,"n":52,"a":48,"t":50},{"d":"2010-10-27","g":40,"n":38,"a":34,"t":35},{"d":"2010-10-28","g":60,"n":62,"a":56,"t":58},{"d":"2010-10-29","g":81,"n":78,"a":62,"t":59},{"d":"2010-10-30","g":84,"n":80,"a":70,"t":72},{"d":"2010-10-31","g":45,"n":42,"a":20,"t":18},
{"d":"2010-11-01","g":40,"n":38,"a":30,"t":30},{"d":"2010-11-02","g":25,"n":22,"a":18,"t":19},{"d":"2010-11-03","g":50,"n":48,"a":42,"t":44},{"d":"2010-11-04","g":67,"n":64,"a":58,"t":60},{"d":"2010-11-05","g":45,"n":42,"a":38,"t":40},{"d":"2010-11-06","g":25,"n":22,"a":18,"t":20},{"d":"2010-11-07","g":14,"n":12,"a":8,"t":9},{"d":"2010-11-08","g":45,"n":42,"a":40,"t":42},{"d":"2010-11-09","g":60,"n":58,"a":55,"t":56},{"d":"2010-11-10","g":30,"n":28,"a":24,"t":26},{"d":"2010-11-11","g":20,"n":18,"a":12,"t":12},{"d":"2010-11-12","g":70,"n":68,"a":60,"t":62},{"d":"2010-11-13","g":88,"n":87,"a":75,"t":72},{"d":"2010-11-14","g":89,"n":85,"a":70,"t":68},{"d":"2010-11-15","g":20,"n":18,"a":12,"t":10},{"d":"2010-11-16","g":45,"n":42,"a":40,"t":42},{"d":"2010-11-17","g":60,"n":58,"a":55,"t":56},{"d":"2010-11-18","g":40,"n":38,"a":35,"t":38},{"d":"2010-11-19","g":58,"n":56,"a":48,"t":44},{"d":"2010-11-20","g":45,"n":42,"a":40,"t":40},{"d":"2010-11-21","g":22,"n":20,"a":15,"t":17},{"d":"2010-11-22","g":50,"n":48,"a":45,"t":46},{"d":"2010-11-23","g":40,"n":38,"a":35,"t":36},{"d":"2010-11-24","g":55,"n":52,"a":50,"t":52},{"d":"2010-11-25","g":20,"n":18,"a":14,"t":15},{"d":"2010-11-26","g":35,"n":32,"a":30,"t":30},{"d":"2010-11-27","g":50,"n":48,"a":45,"t":46},{"d":"2010-11-28","g":42,"n":40,"a":38,"t":44},{"d":"2010-11-29","g":30,"n":28,"a":25,"t":26},{"d":"2010-11-30","g":24,"n":22,"a":18,"t":19},
{"d":"2010-12-01","g":37,"n":35,"a":30,"t":30},{"d":"2010-12-02","g":28,"n":26,"a":22,"t":22},{"d":"2010-12-03","g":35,"n":33,"a":30,"t":31},{"d":"2010-12-04","g":40,"n":38,"a":36,"t":38},{"d":"2010-12-05","g":30,"n":28,"a":26,"t":26},{"d":"2010-12-06","g":26,"n":24,"a":22,"t":24},{"d":"2010-12-07","g":38,"n":36,"a":30,"t":32},{"d":"2010-12-08","g":22,"n":20,"a":18,"t":19},{"d":"2010-12-09","g":45,"n":42,"a":40,"t":42},{"d":"2010-12-10","g":70,"n":67,"a":65,"t":59},{"d":"2010-12-11","g":55,"n":52,"a":48,"t":50},{"d":"2010-12-12","g":45,"n":42,"a":40,"t":41},{"d":"2010-12-13","g":60,"n":58,"a":48,"t":50},{"d":"2010-12-14","g":50,"n":48,"a":40,"t":42},{"d":"2010-12-15","g":70,"n":68,"a":58,"t":60},{"d":"2010-12-16","g":77,"n":76,"a":66,"t":63},{"d":"2010-12-17","g":69,"n":65,"a":55,"t":50},{"d":"2010-12-18","g":50,"n":48,"a":44,"t":44},{"d":"2010-12-19","g":76,"n":72,"a":73,"t":64},{"d":"2010-12-20","g":90,"n":85,"a":81,"t":76},{"d":"2010-12-21","g":60,"n":58,"a":55,"t":52},{"d":"2010-12-22","g":91,"n":87,"a":84,"t":70},{"d":"2010-12-23","g":50,"n":48,"a":45,"t":43},{"d":"2010-12-24","g":25,"n":22,"a":18,"t":15},{"d":"2010-12-25","g":40,"n":38,"a":34,"t":36},{"d":"2010-12-26","g":30,"n":28,"a":24,"t":25},{"d":"2010-12-27","g":20,"n":18,"a":15,"t":17},{"d":"2010-12-28","g":45,"n":42,"a":40,"t":42},{"d":"2010-12-29","g":65,"n":60,"a":72,"t":60},{"d":"2010-12-30","g":20,"n":12,"a":15,"t":17},{"d":"2010-12-31","g":106,"n":95,"a":90,"t":102}
]},
"encoding": {
  "y": {"field": "d", "type": "temporal",
    "scale": {"type": "utc", "domain": [{"year": 2009, "month": 1, "date": 1, "utc": true}, {"year": 2010, "month": 12, "date": 31, "utc": true}], "nice": false},
    "axis": {"orient": "right", "title": null, "labelExpr": "utcFormat(datum.value, '%d/%m/%Y')",
      "values": [{"year":2009,"month":1,"date":1,"utc":true},{"year":2009,"month":2,"date":1,"utc":true},{"year":2009,"month":3,"date":1,"utc":true},{"year":2009,"month":4,"date":1,"utc":true},{"year":2009,"month":5,"date":1,"utc":true},{"year":2009,"month":6,"date":1,"utc":true},{"year":2009,"month":7,"date":1,"utc":true},{"year":2009,"month":8,"date":1,"utc":true},{"year":2009,"month":9,"date":1,"utc":true},{"year":2009,"month":10,"date":1,"utc":true},{"year":2009,"month":11,"date":1,"utc":true},{"year":2009,"month":12,"date":1,"utc":true},{"year":2010,"month":1,"date":1,"utc":true},{"year":2010,"month":2,"date":1,"utc":true},{"year":2010,"month":3,"date":1,"utc":true},{"year":2010,"month":4,"date":1,"utc":true},{"year":2010,"month":5,"date":1,"utc":true},{"year":2010,"month":6,"date":1,"utc":true},{"year":2010,"month":7,"date":1,"utc":true},{"year":2010,"month":8,"date":1,"utc":true},{"year":2010,"month":9,"date":1,"utc":true},{"year":2010,"month":10,"date":1,"utc":true},{"year":2010,"month":11,"date":1,"utc":true},{"year":2010,"month":12,"date":1,"utc":true}],
      "labelAngle": 180, "labelAlign": "right", "labelBaseline": "middle", "labelFont": "Liberation Sans", "labelFontSize": 19, "labelColor": "black",
      "labelPadding": 7, "tickSize": 5, "tickColor": "black", "domainColor": "black", "domainWidth": 1.5, "grid": false, "labelOverlap": false, "labelFlush": false, "labelBound": false}},
  "order": {"field": "d", "type": "temporal"}
},
"layer": [
  {"mark": {"type": "line", "color": "#0000FF", "strokeWidth": 4.2, "strokeJoin": "round", "strokeCap": "round"},
   "encoding": {"x": {"field": "g", "type": "quantitative",
      "scale": {"domain": [0, 200], "reverse": true, "nice": false, "zero": true},
      "axis": {"orient": "bottom", "values": [0, 25, 50, 75, 100, 125, 150, 175, 200], "labelAngle": -90, "labelAlign": "right", "labelBaseline": "middle",
        "labelFont": "DejaVu Sans", "labelFontSize": 19, "labelColor": "black", "labelPadding": 10, "tickSize": 6, "tickColor": "black",
        "domainColor": "black", "domainWidth": 1.5, "grid": true, "gridColor": "black", "gridWidth": 1, "gridOpacity": 1, "labelFlush": false, "labelOverlap": false,
        "title": "µg/m3", "titleFont": "Liberation Sans", "titleFontSize": 19, "titleFontWeight": "bold", "titleColor": "black", "titleAngle": 180,
        "titleAlign": "center", "titleBaseline": "middle", "titleX": 229, "titleY": 91}}}},
  {"mark": {"type": "line", "color": "#99CCFF", "strokeWidth": 4.2, "strokeJoin": "round", "strokeCap": "round"},
   "encoding": {"x": {"field": "n", "type": "quantitative", "axis": null}}},
  {"mark": {"type": "line", "color": "#FF6600", "strokeWidth": 4.2, "strokeJoin": "round", "strokeCap": "round"},
   "encoding": {"x": {"field": "a", "type": "quantitative", "axis": null}}},
  {"mark": {"type": "line", "color": "#FFCC00", "strokeWidth": 4.2, "strokeJoin": "round", "strokeCap": "round"},
   "encoding": {"x": {"field": "t", "type": "quantitative", "axis": null}}},
  {"data": {"values": [{"serie": "VL"}]},
   "mark": {"type": "rule", "color": "#FF0000", "strokeWidth": 5},
   "encoding": {"x": {"datum": 50, "type": "quantitative",
      "axis": {"orient": "top", "offset": 18, "domain": true, "domainColor": "black", "domainWidth": 1.2, "ticks": false, "labels": false, "grid": false, "title": null}},
    "y": null, "order": null}}
]
},
{
"width": 64, "height": 1588,
"view": {"stroke": "black", "strokeWidth": 1.2, "fill": "white"},
"data": {"values": [{"name": "Giardini"}, {"name": "Nonantolana"}, {"name": "Stazione di Albareto"}, {"name": "Stazione di Tagliati"}, {"name": "VL (50 µg/m3 non più di 35 gg/anno)"}]},
"encoding": {"y": {"field": "name", "type": "nominal", "axis": null,
  "scale": {"type": "point", "padding": 0, "range": [455, 1538],
   "domain": ["VL (50 µg/m3 non più di 35 gg/anno)", "s1", "s2", "s3", "s4", "s5", "s6", "s7", "Stazione di Tagliati", "s9", "s10", "s11", "s12", "s13", "s14", "s15", "Stazione di Albareto", "s17", "s18", "s19", "s20", "s21", "Nonantolana", "s23", "s24", "s25", "s26", "Giardini"]}}},
"layer": [
  {"mark": {"type": "tick", "orient": "vertical", "size": 50, "thickness": 4, "cornerRadius": 2, "opacity": 1, "xOffset": -2},
   "encoding": {
     "x": {"datum": 0, "type": "quantitative", "scale": {"domain": [-1, 1]},
       "axis": {"orient": "top", "offset": 16, "domain": true, "domainColor": "black", "domainWidth": 1.2, "ticks": false, "labels": false, "grid": false, "title": null}},
     "color": {"field": "name", "type": "nominal", "legend": null,
     "scale": {"domain": ["Giardini", "Nonantolana", "Stazione di Albareto", "Stazione di Tagliati", "VL (50 µg/m3 non più di 35 gg/anno)"], "range": ["#0000FF", "#99CCFF", "#FF6600", "#FFCC00", "#FF0000"]}}}},
  {"mark": {"type": "text", "angle": -90, "align": "left", "baseline": "middle", "dx": 31, "xOffset": -2, "font": "DejaVu Sans", "fontSize": 20, "fontWeight": "bold", "color": "black"},
   "encoding": {"text": {"field": "name", "type": "nominal"}}}
]
}
]
}
]
}
